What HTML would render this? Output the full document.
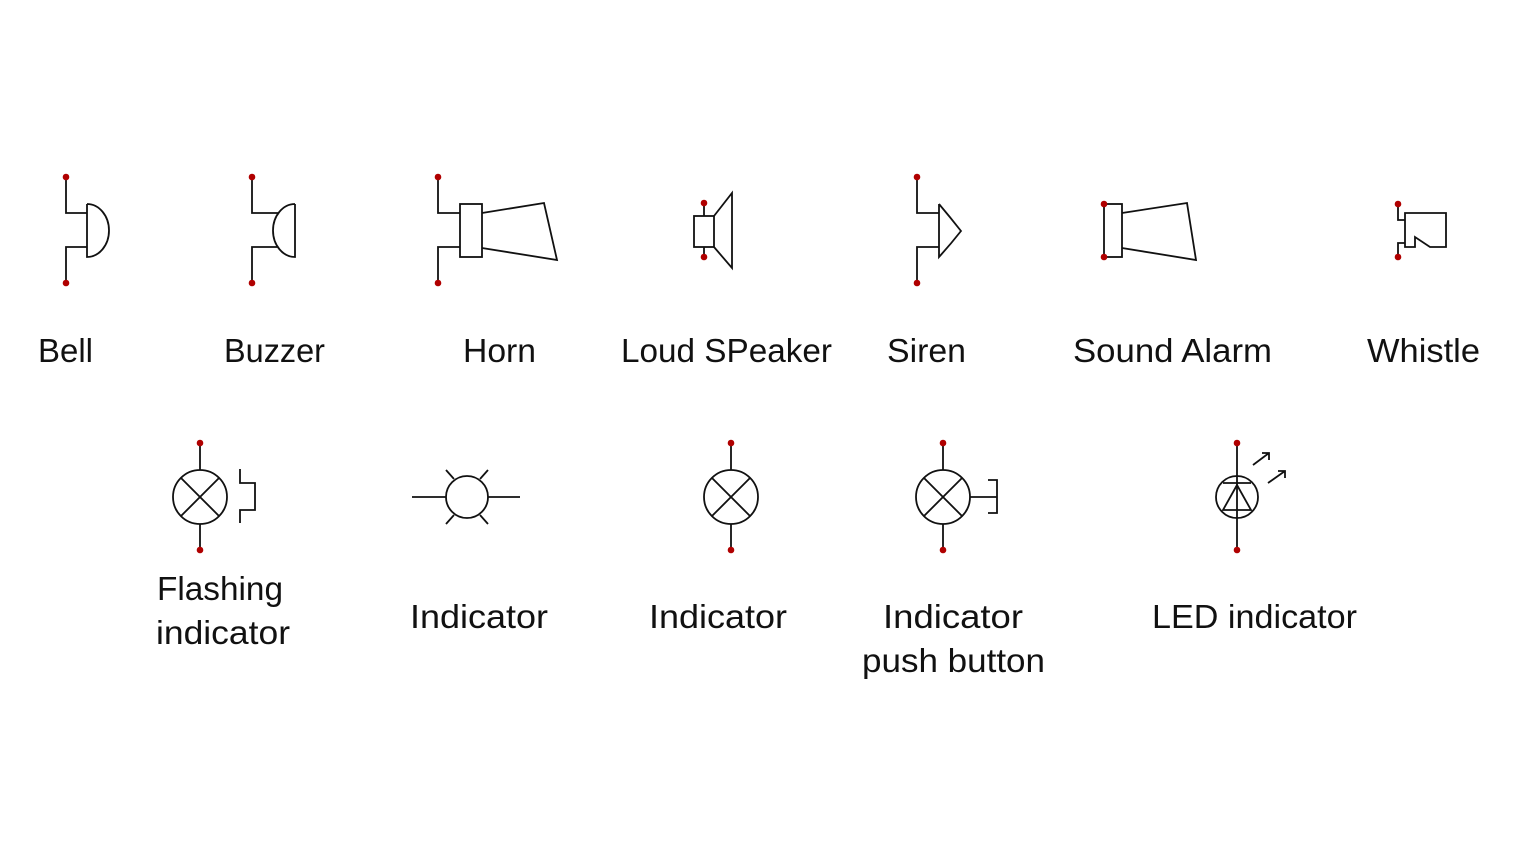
<!DOCTYPE html>
<html><head><meta charset="utf-8"><style>
html,body{margin:0;padding:0;background:#fff;}
svg{display:block;}
text{font-family:"Liberation Sans",sans-serif;font-size:33px;fill:#111;}
</style></head><body>
<svg width="1530" height="861" viewBox="0 0 1530 861" xmlns="http://www.w3.org/2000/svg">
<g fill="none" stroke="#111" stroke-width="1.8">
<path d="M66,177 V213 H87 M66,283 V247 H87 M87,204 V257 A22,26.5 0 0 0 87,204"/>
<path d="M252,177 V213 H278 M252,283 V247 H278 M295,204 V257 A22,26.5 0 0 1 295,204"/>
<path d="M438,177 V213 H460 M438,283 V247 H460"/>
<rect x="460" y="204" width="22" height="53"/>
<path d="M482,213 L544,203 L557,260 L482,248"/>
<path d="M704,203 V216 M704,257 V247"/>
<rect x="694" y="216" width="20" height="31"/>
<path d="M714,216 L732,193 V268 L714,247"/>
<path d="M917,177 V213 H939 M917,283 V247 H939 M939,204 V257 Q950,245 961,231 Q950,217 939,204"/>
<rect x="1104" y="204" width="18" height="53"/>
<path d="M1122,213 L1187,203 L1196,260 L1122,248"/>
<path d="M1398,204 V220 H1405 M1398,257 V243 H1405"/>
<path d="M1405,213 H1446 V247 H1430 L1415,237 V247 H1405 Z"/>
<path d="M200,443 V470 M200,550 V524"/>
<circle cx="200" cy="497" r="27"/>
<path d="M181,478 L219,516 M219,478 L181,516"/>
<path d="M240,469 V483 H255 V510 H240 V523"/>
<circle cx="467" cy="497" r="21"/>
<path d="M412,497 H446 M488,497 H520"/>
<path d="M454,479 L446,470 M480,479 L488,470 M454,515 L446,524 M480,515 L488,524"/>
<path d="M731,443 V470 M731,550 V524"/>
<circle cx="731" cy="497" r="27"/>
<path d="M712,478 L750,516 M750,478 L712,516"/>
<path d="M943,443 V470 M943,550 V524"/>
<circle cx="943" cy="497" r="27"/>
<path d="M924,478 L962,516 M962,478 L924,516"/>
<path d="M970,497 H997 M988,480 H997 V513 H988"/>
<path d="M1237,443 V550"/>
<circle cx="1237" cy="497" r="21"/>
<path d="M1223,483 H1251 M1237,485 L1223,510 H1251 Z"/>
<path d="M1253,465 L1269,453 M1262,453 H1269 V460 M1268,483 L1285,471 M1278,471 H1285 V478"/>
</g>
<g fill="#b00000">
<circle cx="66" cy="177" r="3.3"/><circle cx="66" cy="283" r="3.3"/>
<circle cx="252" cy="177" r="3.3"/><circle cx="252" cy="283" r="3.3"/>
<circle cx="438" cy="177" r="3.3"/><circle cx="438" cy="283" r="3.3"/>
<circle cx="704" cy="203" r="3.3"/><circle cx="704" cy="257" r="3.3"/>
<circle cx="917" cy="177" r="3.3"/><circle cx="917" cy="283" r="3.3"/>
<circle cx="1104" cy="204" r="3.3"/><circle cx="1104" cy="257" r="3.3"/>
<circle cx="1398" cy="204" r="3.3"/><circle cx="1398" cy="257" r="3.3"/>
<circle cx="200" cy="443" r="3.3"/><circle cx="200" cy="550" r="3.3"/>
<circle cx="731" cy="443" r="3.3"/><circle cx="731" cy="550" r="3.3"/>
<circle cx="943" cy="443" r="3.3"/><circle cx="943" cy="550" r="3.3"/>
<circle cx="1237" cy="443" r="3.3"/><circle cx="1237" cy="550" r="3.3"/>
</g>
<text x="38" y="362" textLength="55" lengthAdjust="spacingAndGlyphs">Bell</text>
<text x="224" y="362" textLength="101" lengthAdjust="spacingAndGlyphs">Buzzer</text>
<text x="463" y="362" textLength="73" lengthAdjust="spacingAndGlyphs">Horn</text>
<text x="621" y="362" textLength="211" lengthAdjust="spacingAndGlyphs">Loud SPeaker</text>
<text x="887" y="362" textLength="79" lengthAdjust="spacingAndGlyphs">Siren</text>
<text x="1073" y="362" textLength="199" lengthAdjust="spacingAndGlyphs">Sound Alarm</text>
<text x="1367" y="362" textLength="113" lengthAdjust="spacingAndGlyphs">Whistle</text>
<text x="157" y="600" textLength="126" lengthAdjust="spacingAndGlyphs">Flashing</text>
<text x="156" y="644" textLength="134" lengthAdjust="spacingAndGlyphs">indicator</text>
<text x="410" y="628" textLength="138" lengthAdjust="spacingAndGlyphs">Indicator</text>
<text x="649" y="628" textLength="138" lengthAdjust="spacingAndGlyphs">Indicator</text>
<text x="883" y="628" textLength="140" lengthAdjust="spacingAndGlyphs">Indicator</text>
<text x="862" y="672" textLength="183" lengthAdjust="spacingAndGlyphs">push button</text>
<text x="1152" y="628" textLength="205" lengthAdjust="spacingAndGlyphs">LED indicator</text>
</svg>
</body></html>
